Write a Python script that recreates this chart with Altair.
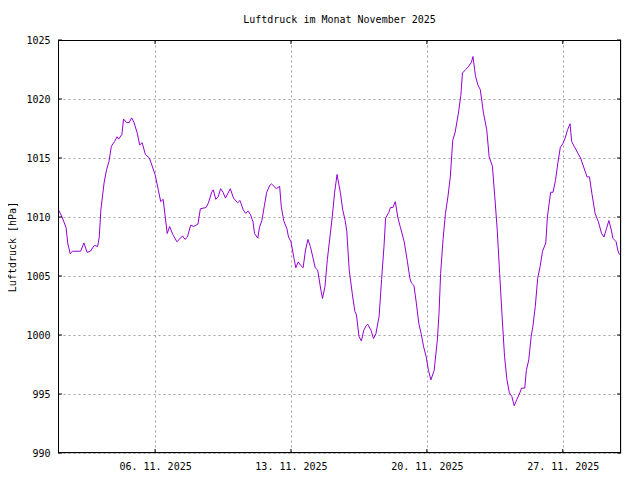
import altair as alt
import pandas as pd

# hours since 01.11.2025 00:00 and air pressure in hPa
hours = [0, 5, 10, 12, 15, 18, 28, 32, 36, 40, 45, 49, 51, 53, 57, 60, 63, 66, 70, 73,
         75, 79, 81, 85, 88, 91, 94, 98, 101, 104, 108, 113, 120, 124, 127, 130, 135, 138, 142, 147,
         154, 157, 160, 164, 168, 173, 176, 183, 186, 190, 192, 195, 198, 201, 204, 207, 213, 217, 222, 225,
         229, 232, 235, 238, 241, 243, 247, 249, 252, 255, 258, 262, 264, 267, 270, 274, 276, 279, 283, 285,
         288, 292, 294, 297, 300, 303, 306, 309, 312, 315, 318, 321, 325, 327, 330, 333, 336, 339, 342, 345,
         349, 352, 355, 357, 360, 364, 367, 369, 372, 375, 378, 381, 383, 387, 390, 393, 397, 400, 403, 405,
         409, 411, 414, 417, 420, 423, 428, 432, 435, 437, 440, 443, 446, 449, 452, 455, 458, 461, 465, 469,
         471, 473, 476, 479, 482, 485, 488, 491, 495, 498, 500, 504, 508, 511, 513, 516, 519, 522, 526, 530,
         533, 537, 540, 543, 546, 549, 552, 555, 558, 561, 564, 567, 571, 573, 577, 579, 582, 585, 587, 590,
         593, 596, 599, 603, 605, 609, 612, 615, 618, 621, 624, 627, 630, 633, 635, 638, 642, 646, 649, 652,
         654, 657, 660, 664, 668, 672, 675, 678, 681, 684, 686, 690, 692, 694]
pressure = [1010.7, 1010.0, 1009.1, 1007.8, 1006.9, 1007.1, 1007.1, 1007.8, 1007.0, 1007.1,
            1007.6, 1007.5, 1008.3, 1010.6, 1012.9, 1014.0, 1014.7, 1016.0, 1016.4, 1016.8,
            1016.6, 1017.0, 1018.3, 1018.0, 1018.0, 1018.4, 1018.0, 1017.1, 1016.1, 1016.3,
            1015.3, 1015.0, 1013.6, 1012.3, 1011.3, 1011.5, 1008.6, 1009.2, 1008.5, 1007.9,
            1008.4, 1008.1, 1008.3, 1009.3, 1009.2, 1009.4, 1010.7, 1010.8, 1011.2, 1012.1,
            1012.3, 1011.5, 1011.7, 1012.4, 1012.1, 1011.6, 1012.4, 1011.6, 1011.2, 1011.4,
            1010.6, 1010.3, 1010.5, 1010.2, 1009.6, 1008.6, 1008.2, 1009.1, 1009.7, 1010.9,
            1012.1, 1012.7, 1012.8, 1012.6, 1012.4, 1012.6, 1010.9, 1009.7, 1009.0, 1008.3,
            1007.9, 1006.4, 1005.7, 1006.2, 1005.9, 1005.7, 1007.2, 1008.1, 1007.5, 1006.6,
            1005.7, 1005.5, 1003.8, 1003.1, 1004.1, 1006.4, 1008.2, 1010.0, 1012.1, 1013.6,
            1012.1, 1010.6, 1009.7, 1008.8, 1005.5, 1003.4, 1002.0, 1001.7, 999.9, 999.5,
            1000.4, 1000.8, 1000.9, 1000.4, 999.7, 1000.1, 1001.6, 1004.7, 1007.5, 1009.9,
            1010.4, 1010.8, 1010.8, 1011.3, 1010.0, 1009.2, 1007.9, 1006.2, 1004.8, 1004.4,
            1004.2, 1002.7, 1001.0, 1000.1, 999.0, 998.2, 997.0, 996.2, 997.0, 999.6,
            1001.8, 1005.2, 1008.1, 1010.3, 1011.7, 1013.4, 1016.5, 1017.2, 1018.8, 1020.3,
            1022.2, 1022.5, 1022.8, 1023.1, 1023.6, 1022.0, 1021.2, 1020.8, 1018.8, 1017.4,
            1015.1, 1014.3, 1011.7, 1008.9, 1005.2, 1001.6, 998.2, 996.2, 995.1, 994.8,
            994.0, 994.5, 995.1, 995.5, 995.5, 997.0, 997.9, 999.9, 1000.7, 1002.4,
            1004.8, 1005.8, 1007.1, 1007.8, 1010.0, 1012.1, 1012.1, 1013.1, 1014.6, 1015.9,
            1016.2, 1016.7, 1017.4, 1017.9, 1016.4, 1016.0, 1015.5, 1015.0, 1014.4, 1013.8,
            1013.4, 1013.4, 1012.0, 1010.3, 1009.6, 1008.6, 1008.3, 1009.0, 1009.7, 1008.9,
            1008.2, 1007.9, 1007.2, 1006.8]

x_tick_hours = [120, 288, 456, 624]
x_tick_labels = ["06. 11. 2025", "13. 11. 2025", "20. 11. 2025", "27. 11. 2025"]
y_ticks = [990, 995, 1000, 1005, 1010, 1015, 1020, 1025]

W, H = 563, 413
FONT = "DejaVu Sans Mono"
LINE_COLOR = "#9400d3"

df = pd.DataFrame({"h": hours, "p": pressure})
xt = pd.DataFrame({"h": x_tick_hours})
yt = pd.DataFrame({"p": y_ticks})

label_expr = " : ".join(
    f"datum.value == {h} ? '{l}'" for h, l in zip(x_tick_hours, x_tick_labels)
) + " : ''"

xscale = alt.Scale(domain=[0, 696], nice=False, zero=False)
yscale = alt.Scale(domain=[990, 1025], nice=False, zero=False)

xaxis = alt.Axis(values=x_tick_hours, labelExpr=label_expr, grid=True, gridDash=[2, 3],
                 gridColor="#a0a0a0", gridWidth=1, domain=False, ticks=False, labelPadding=8,
                 labelFont=FONT, labelFontSize=10, labelColor="black", title=None,
                 labelFlush=False)
yaxis = alt.Axis(values=y_ticks, format="d", grid=True, gridDash=[2, 3], gridColor="#a0a0a0",
                 gridWidth=1, domain=False, ticks=False, labelPadding=8, labelFont=FONT,
                 labelFontSize=10, labelColor="black", title="Luftdruck [hPa]", titleFont=FONT,
                 titleFontSize=10, titleFontWeight="normal", titleColor="black", titlePadding=8)

line = alt.Chart(df).mark_line(color=LINE_COLOR, strokeWidth=1, clip=True).encode(
    x=alt.X("h:Q", scale=xscale, axis=xaxis),
    y=alt.Y("p:Q", scale=yscale, axis=yaxis),
)

ytick_left = alt.Chart(yt).mark_rule(color="black", strokeWidth=1).encode(
    y=alt.Y("p:Q", scale=yscale), x=alt.value(0), x2=alt.value(4))
ytick_right = alt.Chart(yt).mark_rule(color="black", strokeWidth=1).encode(
    y=alt.Y("p:Q", scale=yscale), x=alt.value(W - 4), x2=alt.value(W))
xtick_bottom = alt.Chart(xt).mark_rule(color="black", strokeWidth=1).encode(
    x=alt.X("h:Q", scale=xscale), y=alt.value(H - 4), y2=alt.value(H))
xtick_top = alt.Chart(xt).mark_rule(color="black", strokeWidth=1).encode(
    x=alt.X("h:Q", scale=xscale), y=alt.value(0), y2=alt.value(4))

frame = alt.Chart(yt).mark_rect(fill=None, fillOpacity=0, stroke="black", strokeWidth=1).encode(
    x=alt.value(0.5), x2=alt.value(W - 0.5), y=alt.value(0.5), y2=alt.value(H - 0.5))

chart = alt.layer(line, ytick_left, ytick_right, xtick_bottom, xtick_top, frame).properties(
    width=W, height=H,
    title=alt.TitleParams("Luftdruck im Monat November 2025", font=FONT, fontSize=10,
                          fontWeight="normal", color="black", anchor="middle", offset=10),
    autosize=alt.AutoSizeParams(type="none"),
    padding={"left": 50, "top": 32, "right": 11, "bottom": 25},
).configure_view(stroke=None).configure(background="white")

chart.save("out.html", embed_options={"renderer": "svg", "actions": False})
